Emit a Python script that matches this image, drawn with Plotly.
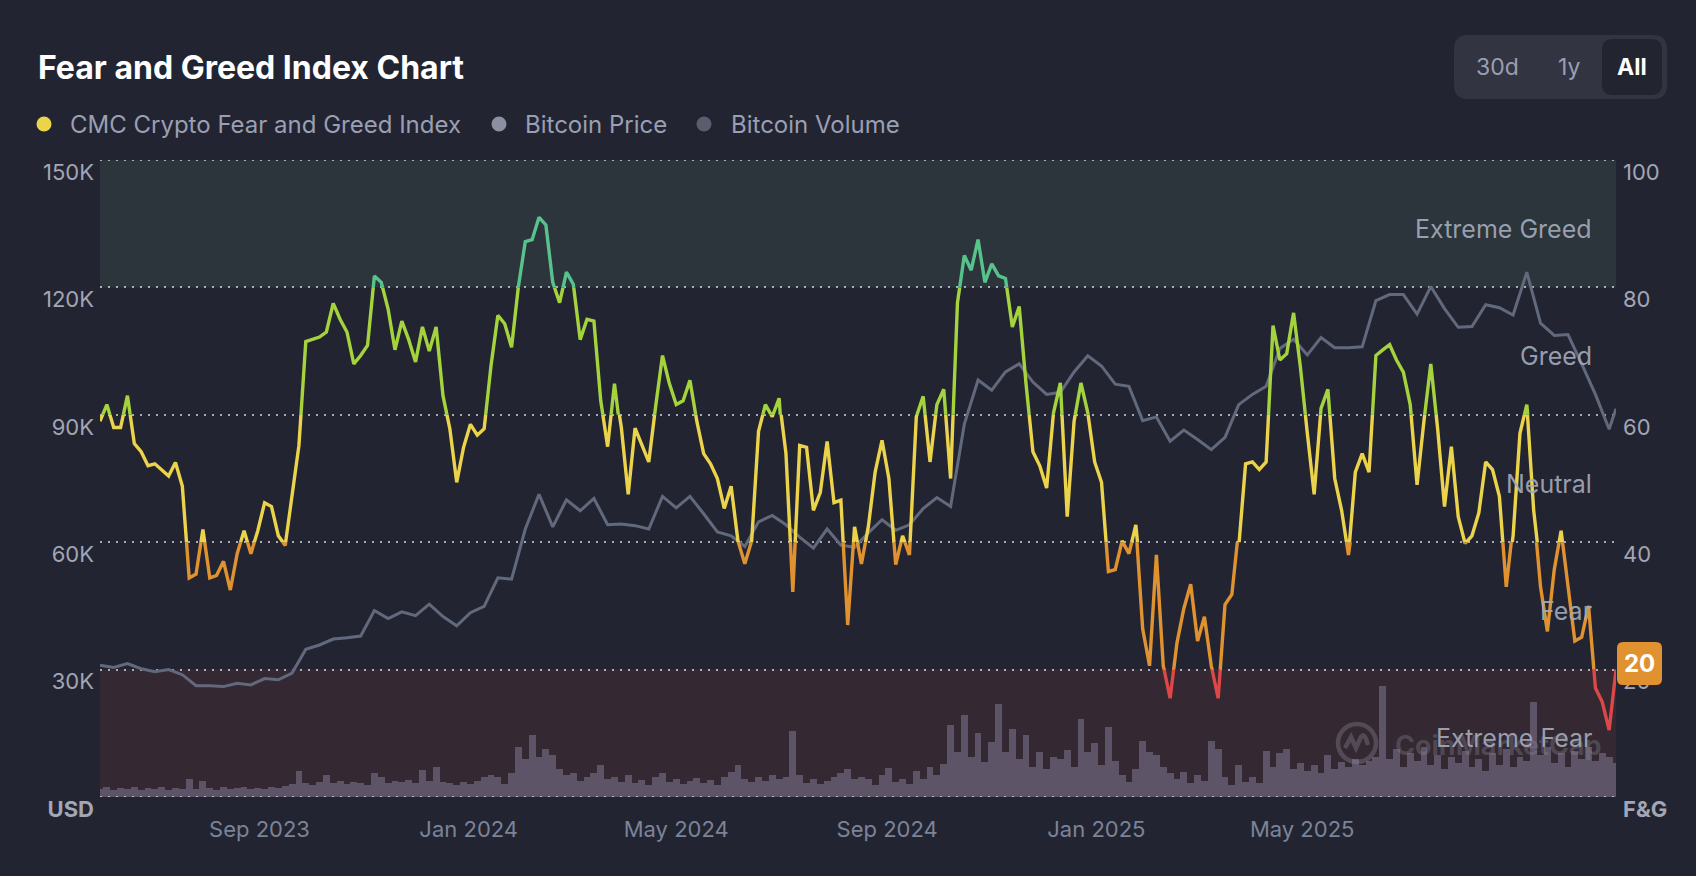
import plotly.graph_objects as go
import pandas as pd

# ---------------- data ----------------
start_date = "2023-05-31"
end_date = "2025-10-31"

# CMC Fear & Greed index, one reading every 4 days
fg_values = [
    59, 61.6, 58, 58, 63, 55.5, 54.2, 52, 52.3, 51.4,
    50.4, 52.5, 48.8, 34.4, 35, 42, 34.4, 34.8, 37, 32.5,
    38.2, 41.8, 38.2, 41.8, 46.2, 45.6, 41, 39.5, 47, 55.2,
    71.5, 71.8, 72.2, 73, 77.5, 75, 73, 68, 69.3, 70.9,
    81.8, 80.8, 76.6, 70.2, 74.7, 71.8, 68.3, 73.8, 70, 73.8,
    63, 57.8, 49.4, 54.9, 58.5, 56.8, 57.8, 67.7, 75.6, 74.3,
    70.6, 80.2, 87.2, 87.5, 91, 89.8, 80.8, 77.6, 82.4, 80.5,
    71.8, 75, 74.7, 62.2, 55, 64.9, 58, 47.5, 57.9, 55.2,
    52.6, 61.3, 69.3, 64.9, 61.6, 62.2, 65.4, 59, 53.9, 52.3,
    50, 45.3, 48.8, 40.2, 36.6, 40.2, 57.4, 61.6, 59.7, 62.6,
    53.9, 32.2, 55.2, 54.9, 45, 47.8, 55.8, 46.2, 46.6, 27,
    42.4, 36.6, 42.4, 51, 56, 50, 36.5, 41, 38, 59.7,
    62.9, 52.6, 61.6, 64, 50, 77.6, 85, 82.7, 87.5, 80.8,
    83.7, 81.8, 81.4, 73.8, 77, 64.8, 54.2, 52, 48.5, 60.3,
    65, 44, 59, 65, 60.3, 52.6, 49.4, 35.4, 35.7, 40.2,
    38.2, 42.7, 26.4, 20.6, 38, 20.6, 15.5, 24.2, 29.6, 33.4,
    24.5, 28.3, 20.6, 15.5, 30.2, 31.8, 39.2, 52.3, 52.6, 51.4,
    52.6, 74, 68.6, 69.6, 76, 67.4, 57.1, 47.5, 61, 64,
    50, 45, 38, 51, 53.9, 51, 69.3, 70.2, 71, 68.6,
    66.7, 61.6, 49, 59, 68, 57.8, 45.6, 55, 44, 39.8,
    41, 44.6, 52.6, 51.4, 47.2, 33, 41, 57.1, 61.6, 45,
    33, 26, 35.7, 41.8, 32.8, 24.5, 25.1, 30, 17.1, 14.9,
    10.5, 20,
]

# Bitcoin price in thousand USD, one reading every 8 days plus the last day
price_k = [
    31, 30.5, 31.4, 30.2, 29.5, 30, 28.8, 26.2, 26.2, 26,
    26.8, 26.4, 27.9, 27.6, 29.2, 34.8, 35.8, 37.2, 37.5, 37.9,
    43.9, 42, 43.6, 42.7, 45.4, 42.5, 40.3, 43.4, 44.9, 51.6,
    51.3, 63.1, 71.3, 63.6, 70, 67.4, 70.3, 64.1, 64.3, 63.9,
    63.1, 70.8, 68.1, 70.8, 66.7, 62.4, 61.5, 59, 64.8, 66.3,
    64.1, 61.2, 58.6, 63.1, 59.3, 58.8, 62.2, 65.3, 62.8, 64.1,
    67.9, 70.5, 68.4, 87.8, 98.2, 95.8, 100.1, 102, 97.7, 94.8,
    95.3, 100.1, 103.9, 101.5, 97.2, 96.7, 88.6, 89.5, 83.8, 86.4,
    84.2, 81.8, 84.7, 92.4, 94.8, 96.7, 105.6, 107.8, 104.1, 108.2,
    105.8, 105.8, 106, 116.9, 118.3, 118.3, 113.7, 120.2, 115, 110.6,
    110.8, 115.9, 115.2, 113.5, 123.6, 111.6, 108.7, 108.9, 102, 94.8,
    86.6, 91.4,
]

# Bitcoin volume (billion USD), one reading every 4 days
volume_b = [
    8, 10, 7, 9, 8, 10, 7, 9, 8, 10,
    7, 9, 8, 18, 8, 16, 9, 7, 10, 8,
    9, 10, 8, 9, 8, 10, 9, 11, 13, 26,
    14, 12, 15, 22, 14, 16, 13, 15, 14, 12,
    24, 20, 14, 16, 15, 17, 14, 27, 16, 30,
    15, 14, 12, 15, 13, 16, 20, 22, 20, 13,
    24, 50, 38, 62, 40, 48, 42, 28, 22, 24,
    16, 20, 24, 32, 18, 20, 15, 22, 14, 17,
    12, 20, 24, 15, 18, 13, 16, 19, 14, 17,
    12, 20, 25, 32, 18, 15, 20, 16, 22, 18,
    20, 66, 22, 14, 18, 13, 16, 20, 24, 28,
    18, 20, 18, 12, 22, 29, 15, 18, 13, 26,
    18, 30, 22, 33, 72, 45, 82, 40, 64, 35,
    55, 93, 45, 68, 38, 62, 30, 45, 28, 40,
    38, 47, 30, 78, 45, 54, 32, 70, 36, 22,
    15, 28, 56, 45, 42, 30, 24, 18, 25, 14,
    22, 16, 56, 48, 20, 12, 32, 15, 20, 14,
    46, 30, 44, 48, 28, 34, 26, 32, 24, 42,
    28, 35, 30, 38, 32, 36, 40, 111, 38, 48,
    30, 44, 36, 50, 32, 42, 28, 40, 34, 46,
    30, 38, 26, 44, 32, 48, 30, 40, 36, 95,
    42, 50, 34, 44, 30, 46, 38, 50, 36, 44,
    40, 34,
]

fg_dates = pd.date_range(start_date, periods=len(fg_values), freq="4D")
price_dates = list(pd.date_range(start_date, periods=len(price_k) - 1, freq="8D")) + [fg_dates[-1]]
vol_dates = fg_dates

x_tick_vals = ["2023-09-01", "2024-01-01", "2024-05-01", "2024-09-01", "2025-01-01", "2025-05-01"]
x_tick_text = ["Sep 2023", "Jan 2024", "May 2024", "Sep 2024", "Jan 2025", "May 2025"]

usd_tick_vals = [0, 30000, 60000, 90000, 120000, 150000]
usd_tick_text = ["<b>USD</b>", "30K", "60K", "90K", "120K", "150K"]
fg_tick_vals = [0, 20, 40, 60, 80, 100]
fg_tick_text = ["<b>F&amp;G</b>", "20", "40", "60", "80", "100"]

band_names = ["Extreme Fear", "Fear", "Neutral", "Greed", "Extreme Greed"]
band_lows = [0, 20, 40, 60, 80]
band_highs = [20, 40, 60, 80, 100]
band_colors = ["#dc4848", "#df922f", "#ebd34b", "#a4d33e", "#57c38b"]

legend_names = ["CMC Crypto Fear and Greed Index", "Bitcoin Price", "Bitcoin Volume"]
legend_colors = ["#ebd34b", "#8a8fa2", "#595d6e"]
range_buttons = ["30d", "1y", "All"]

# ---------------- layout geometry ----------------
W, H = 1696, 876
ML, MR, MT, MB = 100, 80, 160, 79
PW, PH = W - ML - MR, H - MT - MB
BG = "#222531"
FONT = "Inter"
GRID = "rgba(215,217,225,0.75)"
GRID_DASH = "2px,6px"


def px2x(px):
    return (px - ML) / PW


def py2y(py):
    return (H - MB - py) / PH


def rounded_path(x0, y0, x1, y1, r):
    # pixel coords, y measured downward; converted to y-up for pixel-sized shapes
    t, b = -y0, -y1
    return (f"M {x0 + r},{t} L {x1 - r},{t} Q {x1},{t} {x1},{t - r} "
            f"L {x1},{b + r} Q {x1},{b} {x1 - r},{b} L {x0 + r},{b} "
            f"Q {x0},{b} {x0},{b + r} L {x0},{t - r} Q {x0},{t} {x0 + r},{t} Z")


fig = go.Figure()

# Bitcoin price
fig.add_trace(go.Scatter(
    x=price_dates, y=[p * 1000 for p in price_k], yaxis="y", mode="lines",
    line=dict(color="#62697d", width=3), hoverinfo="skip", showlegend=False))

# Bitcoin volume
fig.add_trace(go.Bar(
    x=vol_dates, y=volume_b, yaxis="y8", marker=dict(color="#5d5468", line=dict(width=0)),
    hoverinfo="skip", showlegend=False))

# carrier for the right F&G axis
fig.add_trace(go.Scatter(
    x=fg_dates, y=fg_values, yaxis="y2", mode="lines",
    line=dict(color="rgba(0,0,0,0)", width=0), hoverinfo="skip", showlegend=False))

# Fear & Greed line, one copy per band, each clipped to its band
for k in range(5):
    fig.add_trace(go.Scatter(
        x=fg_dates, y=fg_values, yaxis=f"y{k + 3}", mode="lines",
        line=dict(color=band_colors[k], width=3.4), hoverinfo="skip", showlegend=False))

tick_font_y = dict(family=FONT, size=22, color="#a2a6b5")
layout_axes = dict(
    xaxis=dict(type="date", range=[start_date, end_date], domain=[0, 1], anchor="y",
               showgrid=False, zeroline=False, showline=False, ticks="",
               tickvals=x_tick_vals, ticktext=x_tick_text,
               tickfont=dict(family=FONT, size=22, color="#7c8398"),
               ticklabelstandoff=17, fixedrange=True),
    yaxis=dict(range=[0, 150000], domain=[0, 1], anchor="x", side="left",
               showgrid=True, gridcolor=GRID, gridwidth=2,
               griddash=GRID_DASH, zeroline=False, showline=False, ticks="",
               tickvals=usd_tick_vals, ticktext=usd_tick_text, tickfont=tick_font_y,
               ticklabelshift=12, ticklabelstandoff=5, fixedrange=True),
    yaxis2=dict(range=[0, 100], overlaying="y", anchor="x", side="right",
                showgrid=False, zeroline=False, showline=False, ticks="",
                tickvals=fg_tick_vals, ticktext=fg_tick_text, tickfont=tick_font_y,
                ticklabelshift=12, ticklabelstandoff=6, fixedrange=True),
    yaxis8=dict(range=[0, 637], overlaying="y", anchor="x", visible=False, fixedrange=True),
)
for k in range(5):
    layout_axes[f"yaxis{k + 3}"] = dict(
        domain=[band_lows[k] / 100, band_highs[k] / 100], range=[band_lows[k], band_highs[k]],
        anchor="x", visible=False, fixedrange=True)

shapes = [
    dict(type="rect", xref="paper", yref="y2", x0=0, x1=1, y0=80, y1=100,
         fillcolor="#2b353b", line=dict(width=0), layer="below"),
    dict(type="rect", xref="paper", yref="y2", x0=0, x1=1, y0=0, y1=20,
         fillcolor="#342832", line=dict(width=0), layer="below"),
    # dotted edge lines at the top and bottom of the value range
    dict(type="line", xref="paper", yref="y", x0=0, x1=1, y0=150000, y1=150000,
         line=dict(color=GRID, width=2, dash=GRID_DASH), layer="between"),
    dict(type="line", xref="paper", yref="y", x0=0, x1=1, y0=0, y1=0,
         line=dict(color=GRID, width=2, dash=GRID_DASH), layer="above"),
    # range selector
    dict(type="path", xref="paper", yref="paper", xsizemode="pixel", ysizemode="pixel",
         xanchor=px2x(0), yanchor=py2y(0), path=rounded_path(1454, 35, 1667, 99, 14),
         fillcolor="#323442", line=dict(width=0)),
    dict(type="path", xref="paper", yref="paper", xsizemode="pixel", ysizemode="pixel",
         xanchor=px2x(0), yanchor=py2y(0), path=rounded_path(1602, 39, 1662, 95, 11),
         fillcolor="#222430", line=dict(width=0)),
    # watermark logo
    dict(type="circle", xref="paper", yref="paper", xsizemode="pixel", ysizemode="pixel",
         xanchor=px2x(1357), yanchor=py2y(743), x0=-19, x1=19, y0=-19, y1=19,
         line=dict(color="rgba(140,140,155,0.35)", width=4.5)),
    dict(type="path", xref="paper", yref="paper", xsizemode="pixel", ysizemode="pixel",
         xanchor=px2x(1357), yanchor=py2y(743),
         path="M -12,-5 L -6,6 L -1,-5 L 4,6 Q 7,10 9,4 L 11,-2",
         line=dict(color="rgba(140,140,155,0.35)", width=4.5)),
    # last-value badge
    dict(type="path", xref="paper", yref="y2", xsizemode="pixel", ysizemode="pixel",
         xanchor=1, yanchor=fg_values[-1], path=rounded_path(1, -27.5, 46, 15.5, 6),
         fillcolor="#df922f", line=dict(width=0)),
]

annotations = [
    dict(text="<b>Fear and Greed Index Chart</b>", xref="paper", yref="paper",
         x=px2x(36), y=py2y(67), xanchor="left", yanchor="middle", showarrow=False,
         font=dict(family=FONT, size=32, color="#ffffff")),
    dict(text="CoinMarketCap", xref="paper", yref="paper", x=px2x(1393), y=py2y(745),
         xanchor="left", yanchor="middle", showarrow=False,
         font=dict(family=FONT, size=27, color="rgba(140,140,155,0.33)", weight=700)),
]

legend_dot_px = [44, 499, 704]
legend_text_px = [68, 523, 729]
for name, col, dx, tx in zip(legend_names, legend_colors, legend_dot_px, legend_text_px):
    shapes.append(dict(type="circle", xref="paper", yref="paper", xsizemode="pixel",
                       ysizemode="pixel", xanchor=px2x(dx), yanchor=py2y(124),
                       x0=-7.5, x1=7.5, y0=-7.5, y1=7.5, fillcolor=col, line=dict(width=0)))
    annotations.append(dict(text=name, xref="paper", yref="paper", x=px2x(tx), y=py2y(124),
                            xanchor="left", yanchor="middle", showarrow=False,
                            font=dict(family=FONT, size=24, color="#9a9fb2")))

button_px = [1497, 1569, 1632]
for label, bx in zip(range_buttons, button_px):
    sel = label == "All"
    annotations.append(dict(text=f"<b>{label}</b>" if sel else label, xref="paper", yref="paper",
                            x=px2x(bx), y=py2y(67), xanchor="center", yanchor="middle",
                            showarrow=False,
                            font=dict(family=FONT, size=23, color="#ffffff" if sel else "#9a9fb2")))

for k in range(5):
    annotations.append(dict(text=band_names[k], xref="paper", yref="y2", x=px2x(1594),
                            y=(band_lows[k] + band_highs[k]) / 2, yshift=-5,
                            xanchor="right", yanchor="middle", showarrow=False,
                            font=dict(family=FONT, size=25, color="rgba(165,170,186,0.92)")))

annotations.append(dict(text=f"<b>{fg_values[-1]:.0f}</b>", xref="paper", yref="y2", x=1,
                        y=fg_values[-1], xanchor="center", yanchor="middle", xshift=23.5,
                        yshift=6, showarrow=False,
                        font=dict(family=FONT, size=24, color="#ffffff")))

fig.update_layout(
    width=W, height=H, autosize=False,
    margin=dict(l=ML, r=MR, t=MT, b=MB, pad=0),
    paper_bgcolor=BG, plot_bgcolor="rgba(0,0,0,0)",
    bargap=0, showlegend=False, hovermode=False,
    font=dict(family=FONT, color="#a2a6b5"),
    shapes=shapes, annotations=annotations,
    **layout_axes,
)

fig.write_html("out.html", config={"displayModeBar": False, "staticPlot": True},
               post_script="document.body.style.margin='0';document.body.style.overflow='hidden';")
